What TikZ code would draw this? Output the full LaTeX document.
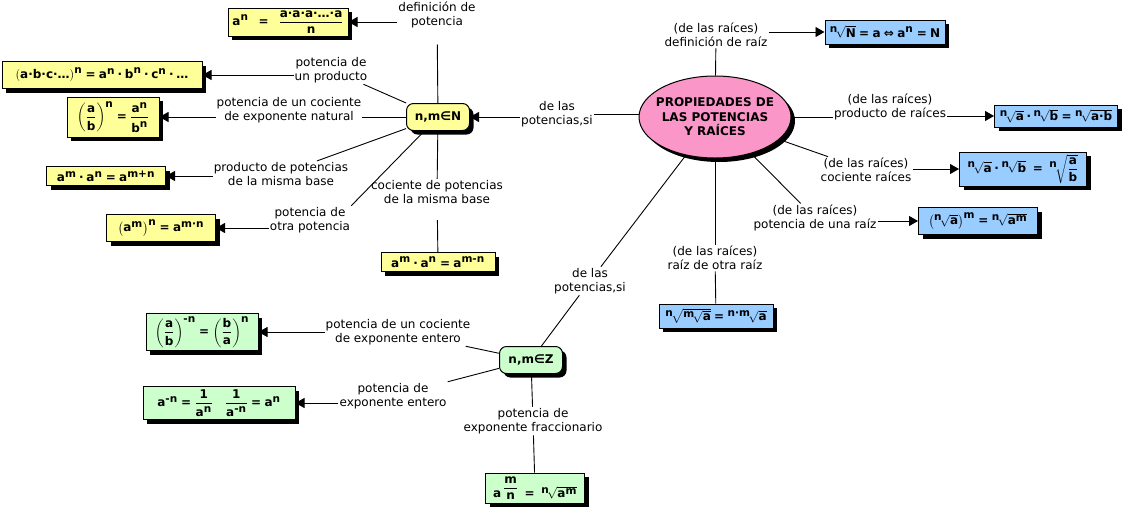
\documentclass[tikz,border=0pt]{standalone}
\usepackage{fix-cm}
\usepackage{amsmath}
\usepackage{fontspec}
\setmainfont{DejaVu Sans}
\usetikzlibrary{shapes.geometric,arrows.meta,shadows}
\DeclareMathSizes{12}{12}{10.5}{8}
\definecolor{yel}{RGB}{255,255,153}
\definecolor{blu}{RGB}{153,204,255}
\definecolor{grn}{RGB}{204,255,204}
\definecolor{pnk}{RGB}{250,150,200}
\newcommand\B[1]{\text{#1}}
\newcommand\Eq{\mathrel{\text{=}}}
\newcommand\Dt{\mathbin{\text{·}}}
\newcommand\F[2]{\genfrac{}{}{1pt}{0}{#1}{#2}}
\newcommand\Rt[2]{{}^{\B{#1}}\!\sqrt{#2}}
\begin{document}
\begin{tikzpicture}[x=1pt,y=-1pt,
  font=\fontsize{12}{14.5}\selectfont,
  shad/.style={drop shadow={shadow xshift=4pt,shadow yshift=-4pt,fill=black,opacity=1}},
  fbox/.style={draw=black,line width=1pt,shad,inner sep=2pt,font=\fontsize{12}{14.5}\selectfont\bfseries},
  yb/.style={fbox,fill=yel},
  bb/.style={fbox,fill=blu},
  gb/.style={fbox,fill=grn},
  lbl/.style={align=center,inner sep=1pt},
  con/.style={draw=black,line width=0.9pt},
  arr/.style={con,-{Triangle[length=9pt,width=10pt]}},
  cpt/.style={draw=black,line width=1pt,rounded corners=7pt,shad,font=\fontsize{12}{14.5}\selectfont\bfseries,minimum width=63pt,minimum height=27pt,inner sep=2pt},
]
\useasboundingbox (0,0) rectangle (1123,512);
\fill[white] (0,0) rectangle (1123,512);

% concepts
\node[ellipse,draw=black,line width=1pt,fill=pnk,shad,minimum width=152pt,minimum height=82pt,inner sep=0pt,
  label={[name=Ptxt,align=center,font=\fontsize{12}{14.5}\selectfont\bfseries]center:PROPIEDADES DE\\LAS POTENCIAS\\Y RAÍCES}] (P) at (715,117) {};
\node[cpt,fill=yel] (N) at (438,117) {n,m∈N};
\node[cpt,fill=grn] (Z) at (531,360) {n,m∈Z};

% yellow boxes
\node[yb,minimum width=120pt,minimum height=28pt] (b1) at (288,22) {$\B{a}^{\B{n}}\;\;\Eq\;\;\F{\B{a·a·a·…·a}}{\B{n}}$};
\node[yb,minimum width=200pt,minimum height=27pt] (b2) at (102,75) {$\left(\B{a·b·c·…}\right)^{\B{n}}\Eq\B{a}^{\B{n}}\Dt\B{b}^{\B{n}}\Dt\B{c}^{\B{n}}\Dt\B{…}$};
\node[yb,minimum width=92pt,minimum height=40pt] (b3) at (113,117) {$\left(\F{\B{a}}{\B{b}}\right)^{\B{n}}\Eq\F{\B{a}^{\B{n}}}{\B{b}^{\B{n}}}$};
\node[yb,minimum width=119pt,minimum height=19pt] (b4) at (106,176) {$\B{a}^{\B{m}}\Dt\B{a}^{\B{n}}\Eq\B{a}^{\B{m+n}}$};
\node[yb,minimum width=109pt,minimum height=27pt] (b5) at (161,228) {$\left(\B{a}^{\B{m}}\right)^{\B{n}}\Eq\B{a}^{\B{m·n}}$};
\node[yb,minimum width=114pt,minimum height=19pt] (b6) at (438,262) {$\B{a}^{\B{m}}\Dt\B{a}^{\B{n}}\Eq\B{a}^{\B{m-n}}$};

% blue boxes
\node[bb,minimum width=120pt,minimum height=24pt] (b7) at (885,32) {$\Rt{n}{\B{N}}\Eq\B{a}\mathrel{\B{⇔}}\B{a}^{\B{n}}\Eq\B{N}$};
\node[bb,minimum width=123pt,minimum height=22pt] (b8) at (1056,116) {$\Rt{n}{\B{a}}\Dt\Rt{n}{\B{b}}\Eq\Rt{n}{\B{a·b}}$};
\node[bb,minimum width=127pt,minimum height=34pt] (b9) at (1023,169) {$\Rt{n}{\B{a}}\Dt\Rt{n}{\B{b}}\;\Eq\;\Rt{n}{\F{\B{a}}{\B{b}}}$};
\node[bb,minimum width=119pt,minimum height=27pt] (b10) at (978,221) {$\left(\Rt{n}{\B{a}}\right)^{\B{m}}\Eq\Rt{n}{\B{a}^{\B{m}}}$};
\node[bb,minimum width=114pt,minimum height=24pt] (b11) at (716,316) {$\Rt{n}{\Rt{m}{\B{a}}}\Eq\Rt{n·m}{\B{a}}$};

% green boxes
\node[gb,minimum width=112pt,minimum height=37pt] (b12) at (202,332) {$\left(\F{\B{a}}{\B{b}}\right)^{\B{-n}}\Eq\left(\F{\B{b}}{\B{a}}\right)^{\B{n}}$};
\node[gb,minimum width=152pt,minimum height=33pt] (b13) at (219,403) {$\B{a}^{\B{-n}}\Eq\F{\B{1}}{\B{a}^{\B{n}}}\quad\F{\B{1}}{\B{a}^{\B{-n}}}\Eq\B{a}^{\B{n}}$};
\node[gb,minimum width=99pt,minimum height=30pt] (b14) at (535,488) {$\B{a}\,\raisebox{6.5pt}{$\F{\B{m}}{\B{n}}$}\;\Eq\;\Rt{n}{\B{a}^{\B{m}}}$};

% linking phrases
\node[lbl] (lDefPot) at (437,15) {definición de\\potencia};
\node[lbl] (lProd) at (331,70) {potencia de\\un producto};
\node[lbl] (lCocN) at (289,110) {potencia de un cociente\\de exponente natural};
\node[lbl] (lProdBase) at (281,174) {producto de potencias\\de la misma base};
\node[lbl] (lOtra) at (310,220) {potencia de\\otra potencia};
\node[lbl] (lCocBase) at (437,192) {cociente de potencias\\de la misma base};
\node[lbl] (lPotN) at (557,114) {de las\\potencias,si};
\node[lbl] (lPotZ) at (590,281) {de las\\potencias,si};
\node[lbl] (lDefRaiz) at (716,35) {(de las raíces)\\definición de raíz};
\node[lbl] (lProdR) at (890,107) {(de las raíces)\\producto de raíces};
\node[lbl] (lCocR) at (866,170) {(de las raíces)\\cociente raíces};
\node[lbl] (lPotR) at (815,218) {(de las raíces)\\potencia de una raíz};
\node[lbl] (lRaizR) at (715,258) {(de las raíces)\\raíz de otra raíz};
\node[lbl] (lCocZ) at (398,332) {potencia de un cociente\\de exponente entero};
\node[lbl] (lExpZ) at (393,396) {potencia de\\exponente entero};
\node[lbl] (lFrac) at (533,421) {potencia de\\exponente fraccionario};

% connectors: main concept
\draw[con] (lPotN.east) -- (lPotN.east -| P.west);
\draw[arr] (lPotN.west |- N.east) -- (N.east);
\draw[con] (P) -- (lPotZ);
\draw[con] (lPotZ) -- (Z);
\draw[con] (P) -- (lDefRaiz);
\draw[arr] (lDefRaiz.east |- b7.west) -- (b7.west);
\draw[con] (P.east) -- (P.east -| lProdR.west);
\draw[arr] (lProdR.east |- b8.west) -- (b8.west);
\draw[con] (P) -- (lCocR);
\draw[arr] (lCocR.east |- b9.west) -- (b9.west);
\draw[con] (P) -- (lPotR);
\draw[arr] (lPotR.east |- b10.west) -- (b10.west);
\draw[con] (P) -- (lRaizR);
\draw[con] (lRaizR) -- (b11);

% connectors: N
\draw[con,shorten >=15pt] (N) -- (lDefPot);
\draw[arr] (lDefPot.west |- b1.east) -- (b1.east);
\draw[con] (N) -- (lProd);
\draw[arr] (lProd.west |- b2.east) -- (b2.east);
\draw[con] (lCocN.east |- N.west) -- (N.west);
\draw[arr] (lCocN.west |- b3.east) -- (b3.east);
\draw[con] (N) -- (lProdBase);
\draw[arr] (lProdBase.west |- b4.east) -- (b4.east);
\draw[con] (lOtra.north east) -- (N);
\draw[arr] (lOtra.west |- b5.east) -- (b5.east);
\draw[con] (N) -- (lCocBase);
\draw[con,shorten <=15pt] (lCocBase) -- (b6);

% connectors: Z
\draw[con] (Z) -- (lCocZ);
\draw[arr] (lCocZ.west |- b12.east) -- (b12.east);
\draw[con] (Z) -- (lExpZ);
\draw[arr] (lExpZ.west |- b13.east) -- (b13.east);
\draw[con] (Z) -- (lFrac);
\draw[con] (lFrac) -- (b14);
\end{tikzpicture}
\end{document}
